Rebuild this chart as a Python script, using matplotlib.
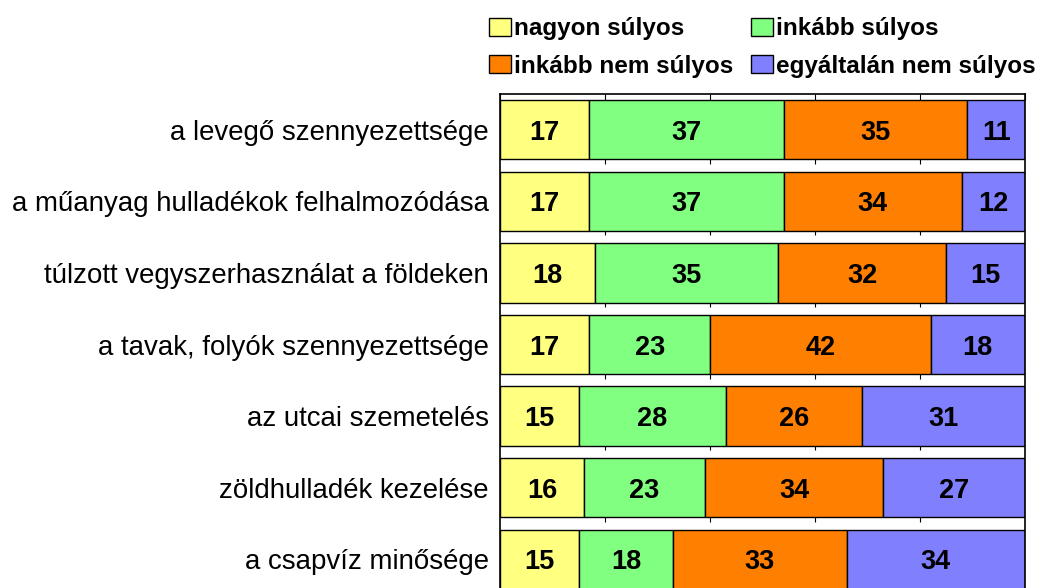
import numpy as np
import matplotlib
matplotlib.use('Agg')
from matplotlib import pyplot as plt
from matplotlib.patches import Patch

plt.rcParams['font.family'] = ['Liberation Sans', 'DejaVu Sans']

categories = ['a levegő szennyezettsége',
              'a műanyag hulladékok felhalmozódása',
              'túlzott vegyszerhasználat a földeken',
              'a tavak, folyók szennyezettsége',
              'az utcai szemetelés',
              'zöldhulladék kezelése',
              'a csapvíz minősége']
series_names = ['nagyon súlyos', 'inkább súlyos', 'inkább nem súlyos', 'egyáltalán nem súlyos']
nagyon = [17, 17, 18, 17, 15, 16, 15]
inkabb = [37, 37, 35, 23, 28, 23, 18]
inkabb_nem = [35, 34, 32, 42, 26, 34, 33]
egyaltalan = [11, 12, 15, 18, 31, 27, 34]
colors = ['#FFFF80', '#80FF80', '#FF8000', '#8080FF']

fig = plt.figure(figsize=(10.39, 5.88), dpi=100)
ax = fig.add_axes([500/1039, -0.012, 525/1039, 1 - 94/588 + 0.012])

bar_h = 0.83
y = np.arange(len(categories))
left = np.zeros(len(categories))
for vals, col in zip([nagyon, inkabb, inkabb_nem, egyaltalan], colors):
	vals = np.array(vals, dtype=float)
	ax.barh(y, vals, left=left, height=bar_h, color=col, edgecolor='black', linewidth=1, zorder=2)
	for yi, l, v in zip(y, left, vals):
		ax.text(l + v/2, yi, str(int(v)), ha='center', va='center_baseline',
				fontsize=19.5, fontweight='bold', color='black', zorder=3)
	left += vals

# short tick marks at the top of every gap between bars
for yi in y[:-1]:
	ax.vlines([20, 40, 60, 80], yi + bar_h/2, yi + bar_h/2 + 0.06, color='black', linewidth=0.8, zorder=1)

ax.set_xlim(0, 100)
ax.set_ylim(len(categories) - 0.5, -0.5)
ax.set_yticks(y)
ax.set_yticklabels(categories, fontsize=19.9)
ax.tick_params(axis='y', length=0, pad=8)
ax.set_xticks([0, 20, 40, 60, 80, 100])
ax.tick_params(axis='x', direction='in', top=True, bottom=False, labelbottom=False, length=4)
for s in ax.spines.values():
	s.set_linewidth(1.2)

order = [0, 2, 1, 3]
handles = [Patch(facecolor=colors[i], edgecolor='black') for i in order]
labels = [series_names[i] for i in order]
fig.legend(handles, labels, loc='upper right', bbox_to_anchor=(1.018, 1.008), ncol=2,
		   frameon=False, prop={'weight': 'bold', 'size': 17.5}, handlelength=0.9,
		   handleheight=0.75, handletextpad=0.15, columnspacing=0.7, labelspacing=0.6)

plt.savefig('out.png', dpi=100)
